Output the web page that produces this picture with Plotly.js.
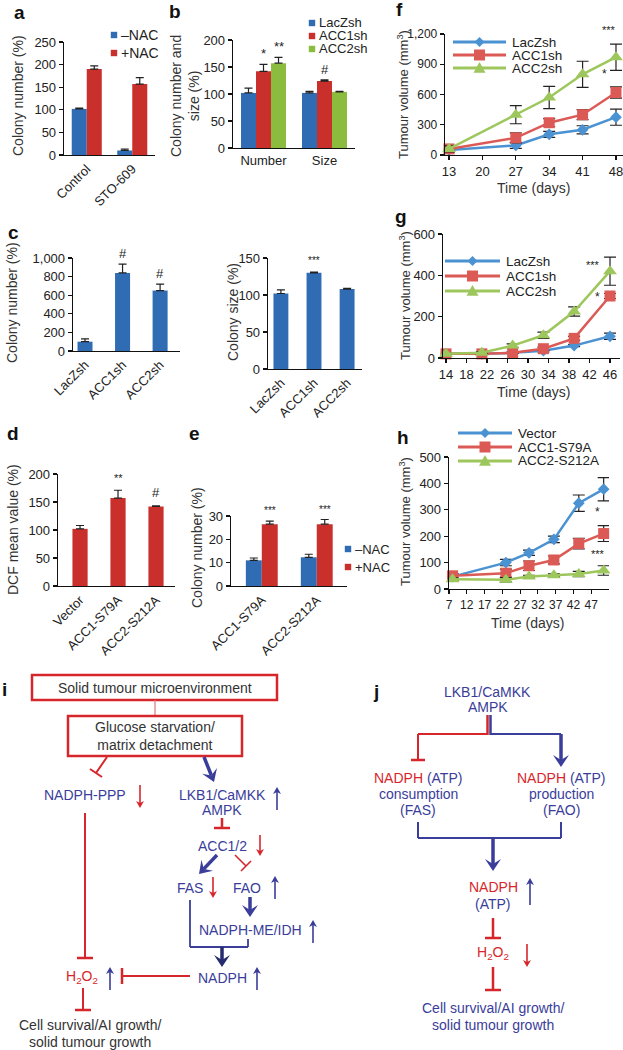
<!DOCTYPE html>
<html><head><meta charset="utf-8">
<script src="https://cdn.plot.ly/plotly-3.0.1.min.js"></script>
<style>html,body{margin:0;padding:0;background:#fff}#chart{width:623px;height:1050px}</style>
</head><body><div id="chart"></div>
<script>
// ---------------- DATA ----------------
const aCategories = ['Control', 'STO-609'];
const aMinusNAC = [102, 10];
const aMinusNACErr = [2, 3];
const aPlusNAC = [190, 157];
const aPlusNACErr = [7, 14];

const bCategories = ['Number', 'Size'];
const bLacZsh = [102, 102];
const bLacZshErr = [9, 3];
const bACC1sh = [142, 124];
const bACC1shErr = [13, 2];
const bACC2sh = [157, 104];
const bACC2shErr = [11, 1];

const cCategories = ['LacZsh', 'ACC1sh', 'ACC2sh'];
const cColonyNumber = [100, 840, 650];
const cColonyNumberErr = [30, 95, 70];
const cColonySize = [102, 130, 108];
const cColonySizeErr = [5, 1, 1];

const dCategories = ['Vector', 'ACC1-S79A', 'ACC2-S212A'];
const dDCF = [102, 157, 142];
const dDCFErr = [6, 14, 1];

const eCategories = ['ACC1-S79A', 'ACC2-S212A'];
const eMinusNAC = [11, 12.3];
const eMinusNACErr = [1, 1.3];
const ePlusNAC = [26.5, 26.5];
const ePlusNACErr = [1.3, 2];

const fDays = [13, 27, 34, 41, 48];
const fLacZsh = [50, 95, 205, 250, 375];
const fLacZshErr = [15, 30, 30, 40, 80];
const fACC1sh = [60, 170, 320, 400, 620];
const fACC1shErr = [20, 50, 40, 50, 55];
const fACC2sh = [60, 400, 570, 800, 970];
const fACC2shErr = [30, 90, 110, 130, 130];
const fTicks = [13, 20, 27, 34, 41, 48];

const gDays = [14, 21, 27, 33, 39, 46];
const gLacZsh = [20, 20, 25, 35, 60, 105];
const gLacZshErr = [3, 3, 3, 5, 5, 15];
const gACC1sh = [20, 20, 25, 45, 95, 300];
const gACC1shErr = [3, 3, 3, 8, 10, 12];
const gACC2sh = [20, 25, 60, 110, 225, 420];
const gACC2shErr = [3, 5, 8, 15, 22, 68];
const gTicks = [14, 18, 22, 26, 30, 34, 38, 42, 46];

const hDays = [8, 23, 29.5, 36.5, 43.5, 50.5];
const hVector = [47, 100, 137, 188, 325, 378];
const hVectorErr = [8, 12, 10, 12, 31, 44];
const hACC1 = [50, 60, 88, 110, 172, 210];
const hACC1Err = [8, 15, 18, 15, 20, 30];
const hACC2 = [37, 35, 47, 52, 57, 70];
const hACC2Err = [5, 8, 5, 5, 10, 18];
const hTicks = [7, 12, 17, 22, 27, 32, 37, 42, 47];

// ---------------- HELPERS ----------------
const W = 623, H = 1050;
const FAM = 'Arial, "Liberation Sans", sans-serif';
const BLUE = '#2f6cb4', RED = '#c9302c', GREEN = '#8cbc3e';
const LBLUE = '#4a92d2', LRED = '#dc5a55', LGREEN = '#9dc75c';
const DBLUE = '#3a3d9a', DRED = '#d7262b';
const px = x => x / W, py = y => 1 - y / H;
const xdom = (a, b) => [a / W, Math.min(1, b / W)];
const ydom = (top, bot) => [1 - bot / H, 1 - top / H];

function axisBase(extra) {
  return Object.assign({
    showline: true, linecolor: '#111', linewidth: 1.3, ticks: 'outside', ticklen: 4,
    tickwidth: 1.2, tickcolor: '#111', showgrid: false, zeroline: false, fixedrange: true,
    ticklabeloverflow: 'allow',
    tickfont: {size: 13, color: '#222', family: FAM}
  }, extra);
}
function barTrace(xa, ya, cats, vals, errs, color, offset, width) {
  return {type: 'bar', x: cats, y: vals, xaxis: xa, yaxis: ya, offset: offset, width: width,
    marker: {color: color, line: {width: 0}}, showlegend: false, hoverinfo: 'skip',
    error_y: {type: 'data', symmetric: false, array: errs, arrayminus: errs.map(() => 0),
      color: '#222', thickness: 1.2, width: 4}};
}
function lineTrace(xa, ya, x, y, err, color, symbol, size) {
  return {type: 'scatter', mode: 'lines+markers', x: x, y: y, xaxis: xa, yaxis: ya,
    line: {color: color, width: 2.5}, marker: {symbol: symbol, size: size, color: color},
    error_y: {type: 'data', array: err, color: '#222', thickness: 1.2, width: 6},
    cliponaxis: false, showlegend: false, hoverinfo: 'skip'};
}
function T(x, y, text, o) {
  o = o || {};
  return {xref: 'paper', yref: 'paper', x: px(x), y: py(y), text: text, showarrow: false,
    font: {size: o.size || 14, color: o.color || '#333', family: FAM},
    xanchor: o.xanchor || 'center', yanchor: o.yanchor || 'middle', textangle: o.angle || 0};
}
function DT(xa, ya, x, y, text, o) {
  o = o || {};
  return {xref: xa, yref: ya, x: x, y: y, text: text, showarrow: false,
    font: {size: o.size || 12, color: '#222', family: FAM}, xanchor: 'center', yanchor: 'bottom', yshift: o.yshift || 1};
}
function L(x0, y0, x1, y1, color, width) {
  return {type: 'line', xref: 'paper', yref: 'paper', x0: px(x0), y0: py(y0), x1: px(x1), y1: py(y1),
    line: {color: color, width: width}};
}
function R(x0, y0, x1, y1, color, width) {
  return {type: 'rect', xref: 'paper', yref: 'paper', x0: px(x0), y0: py(y0), x1: px(x1), y1: py(y1),
    line: {color: color, width: width}, fillcolor: 'rgba(0,0,0,0)'};
}
function P(pts, color) {
  const d = pts.map((p, i) => (i ? 'L' : 'M') + px(p[0]) + ',' + py(p[1])).join(' ') + ' Z';
  return {type: 'path', xref: 'paper', yref: 'paper', path: d, fillcolor: color, line: {width: 0}};
}
function sq(cx, cy, r, color) { return P([[cx - r, cy - r], [cx + r, cy - r], [cx + r, cy + r], [cx - r, cy + r]], color); }
function dia(cx, cy, r, color) { return P([[cx, cy - r], [cx + r, cy], [cx, cy + r], [cx - r, cy]], color); }
function tri(cx, cy, r, color) { return P([[cx, cy - r], [cx + r, cy + r * 0.8], [cx - r, cy + r * 0.8]], color); }
// arrow drawn as shapes: shaft + notched head
function arrow(x0, y0, x1, y1, color, width, hl, hw, notch) {
  const dx = x1 - x0, dy = y1 - y0, len = Math.hypot(dx, dy);
  const ux = dx / len, uy = dy / len, nx = -uy, ny = ux;
  const bx = x1 - ux * hl, by = y1 - uy * hl;
  const mx = bx + ux * notch, my = by + uy * notch;
  return [
    L(x0, y0, mx, my, color, width),
    P([[x1, y1], [bx + nx * hw, by + ny * hw], [mx, my], [bx - nx * hw, by - ny * hw]], color)
  ];
}
function chev(x0, y0, x1, y1, color) { return arrow(x0, y0, x1, y1, color, 3.5, 12, 8, 5); }
function thin(x0, y0, x1, y1, color) { return arrow(x0, y0, x1, y1, color, 1.6, 7, 4, 2); }

// ---------------- TRACES ----------------
const traces = [
  barTrace('x', 'y', aCategories, aMinusNAC, aMinusNACErr, BLUE, -0.33, 0.33),
  barTrace('x', 'y', aCategories, aPlusNAC, aPlusNACErr, RED, 0, 0.33),
  barTrace('x2', 'y2', bCategories, bLacZsh, bLacZshErr, BLUE, -0.369, 0.246),
  barTrace('x2', 'y2', bCategories, bACC1sh, bACC1shErr, RED, -0.123, 0.246),
  barTrace('x2', 'y2', bCategories, bACC2sh, bACC2shErr, GREEN, 0.123, 0.246),
  barTrace('x3', 'y3', cCategories, cColonyNumber, cColonyNumberErr, BLUE, -0.2, 0.4),
  barTrace('x4', 'y4', cCategories, cColonySize, cColonySizeErr, BLUE, -0.225, 0.45),
  barTrace('x5', 'y5', dCategories, dDCF, dDCFErr, RED, -0.2, 0.4),
  barTrace('x6', 'y6', eCategories, eMinusNAC, eMinusNACErr, BLUE, -0.29, 0.29),
  barTrace('x6', 'y6', eCategories, ePlusNAC, ePlusNACErr, RED, 0, 0.29),
  lineTrace('x7', 'y7', fDays, fLacZsh, fLacZshErr, LBLUE, 'diamond', 9),
  lineTrace('x7', 'y7', fDays, fACC1sh, fACC1shErr, LRED, 'square', 11),
  lineTrace('x7', 'y7', fDays, fACC2sh, fACC2shErr, LGREEN, 'triangle-up', 12),
  lineTrace('x8', 'y8', gDays, gLacZsh, gLacZshErr, LBLUE, 'diamond', 9),
  lineTrace('x8', 'y8', gDays, gACC1sh, gACC1shErr, LRED, 'square', 11),
  lineTrace('x8', 'y8', gDays, gACC2sh, gACC2shErr, LGREEN, 'triangle-up', 12),
  lineTrace('x9', 'y9', hDays, hVector, hVectorErr, LBLUE, 'diamond', 9),
  lineTrace('x9', 'y9', hDays, hACC1, hACC1Err, LRED, 'square', 11),
  lineTrace('x9', 'y9', hDays, hACC2, hACC2Err, LGREEN, 'triangle-up', 12)
];

// ---------------- LAYOUT ----------------
const catX = (dom, range, extra) => axisBase(Object.assign({domain: dom, type: 'category', range: range, ticks: '', tickangle: -45}, extra));
const tf12 = {size: 12, color: '#222', family: FAM};
const layout = {
  width: W, height: H, margin: {l: 0, r: 0, t: 0, b: 0}, paper_bgcolor: '#fff', plot_bgcolor: 'rgba(0,0,0,0)',
  font: {family: FAM, color: '#222'}, barmode: 'overlay', showlegend: false,
  xaxis: catX(xdom(64, 155), [-0.5, 1.5], {anchor: 'y'}),
  yaxis: axisBase({domain: ydom(42, 155), range: [0, 250], dtick: 50, anchor: 'x'}),
  xaxis2: catX(xdom(233, 355), [-0.5, 1.5], {anchor: 'y2', tickangle: 0}),
  yaxis2: axisBase({domain: ydom(40, 148), range: [0, 200], dtick: 50, anchor: 'x2'}),
  xaxis3: catX(xdom(73, 180), [-0.32, 2.53], {anchor: 'y3'}),
  yaxis3: axisBase({domain: ydom(258, 351), range: [0, 1000], dtick: 200, anchor: 'x3', separatethousands: true}),
  xaxis4: catX(xdom(268, 362), [-0.39, 2.45], {anchor: 'y4'}),
  yaxis4: axisBase({domain: ydom(258, 369), range: [0, 150], dtick: 50, anchor: 'x4'}),
  xaxis5: catX(xdom(58, 175), [-0.58, 2.5], {anchor: 'y5'}),
  yaxis5: axisBase({domain: ydom(474, 586), range: [0, 200], dtick: 50, anchor: 'x5'}),
  xaxis6: catX(xdom(231, 347), [-0.56, 1.55], {anchor: 'y6'}),
  yaxis6: axisBase({domain: ydom(516, 586), range: [0, 30], dtick: 10, anchor: 'x6'}),
  xaxis7: axisBase({domain: xdom(445, 623), range: [12.16, 49.47], tickvals: fTicks, anchor: 'y7'}),
  yaxis7: axisBase({domain: ydom(34, 155), range: [0, 1200], dtick: 300, anchor: 'x7', separatethousands: true, tickfont: tf12}),
  xaxis8: axisBase({domain: xdom(443, 620), range: [13.41, 47.95], tickvals: gTicks, anchor: 'y8'}),
  yaxis8: axisBase({domain: ydom(234, 358), range: [0, 600], dtick: 200, anchor: 'x8'}),
  xaxis9: axisBase({domain: xdom(449, 609), range: [7, 52], tickvals: hTicks, anchor: 'y9', tickfont: tf12}),
  yaxis9: axisBase({domain: ydom(457, 589), range: [0, 500], dtick: 100, anchor: 'x9'}),
  annotations: [],
  shapes: []
};
const ann = layout.annotations, shp = layout.shapes;
const addArrow = a => a.forEach(s => shp.push(s));

// panel letters
[['a', 19, 12], ['b', 175, 11], ['f', 399, 10], ['c', 13, 232], ['g', 401, 216], ['d', 13, 433],
 ['e', 194, 433], ['h', 403, 437], ['i', 4, 689], ['j', 376, 692]].forEach(l =>
  ann.push(T(l[1], l[2], '<b>' + l[0] + '</b>', {size: 19, color: '#111'})));

// axis titles
ann.push(T(18, 96, 'Colony number (%)', {angle: -90}));
ann.push(T(185, 96, 'Colony number and<br>size (%)', {angle: -90}));
ann.push(T(12, 303, 'Colony number (%)', {angle: -90}));
ann.push(T(233, 312, 'Colony size (%)', {angle: -90}));
ann.push(T(13, 530, 'DCF mean value (%)', {angle: -90}));
ann.push(T(197, 548, 'Colony number (%)', {angle: -90}));
ann.push(T(403, 95, 'Tumour volume (mm<sup>3</sup>)', {angle: -90, size: 13}));
ann.push(T(405, 296, 'Tumour volume (mm<sup>3</sup>)', {angle: -90, size: 13}));
ann.push(T(405, 522, 'Tumour volume (mm<sup>3</sup>)', {angle: -90, size: 13}));
ann.push(T(533, 188, 'Time (days)'));
ann.push(T(533, 392, 'Time (days)'));
ann.push(T(527, 623, 'Time (days)'));

// significance marks
ann.push(DT('x2', 'y2', 0, bACC1sh[0] + bACC1shErr[0], '*', {size: 13}));
ann.push(DT('x2', 'y2', 0.246, bACC2sh[0] + bACC2shErr[0], '**', {size: 13}));
ann.push(DT('x2', 'y2', 1, bACC1sh[1] + bACC1shErr[1], '#', {size: 13}));
ann.push(DT('x3', 'y3', 1, cColonyNumber[1] + cColonyNumberErr[1], '#', {size: 13}));
ann.push(DT('x3', 'y3', 2, cColonyNumber[2] + cColonyNumberErr[2], '#', {size: 13}));
ann.push(DT('x4', 'y4', 1, cColonySize[1] + cColonySizeErr[1], '***', {size: 10, yshift: 4}));
ann.push(DT('x5', 'y5', 1, dDCF[1] + dDCFErr[1], '**', {size: 11, yshift: 4}));
ann.push(DT('x5', 'y5', 2, dDCF[2] + dDCFErr[2], '#', {size: 13, yshift: 4}));
ann.push(DT('x6', 'y6', 0.145, ePlusNAC[0] + ePlusNACErr[0], '***', {size: 10, yshift: 3}));
ann.push(DT('x6', 'y6', 1.145, ePlusNAC[1] + ePlusNACErr[1], '***', {size: 10, yshift: 3}));
ann.push(DT('x7', 'y7', 46.5, 1150, '***', {size: 11}));
ann.push(DT('x7', 'y7', 45.6, 700, '*', {size: 12}));
ann.push(DT('x8', 'y8', 42.7, 405, '***', {size: 11}));
ann.push(DT('x8', 'y8', 43.5, 245, '*', {size: 12}));
ann.push(DT('x9', 'y9', 48.9, 255, '*', {size: 12}));
ann.push(DT('x9', 'y9', 48.9, 100, '***', {size: 11}));

// manual legends (bars)
function barLeg(x, y, color, label, size) {
  shp.push(sq(x, y, 3.2, color));
  ann.push(T(x + 5, y, label, {xanchor: 'left', size: size, color: '#222'}));
}
barLeg(114, 35, BLUE, '–NAC', 14);
barLeg(114, 53, RED, '+NAC', 14);
barLeg(312, 23, BLUE, 'LacZsh', 13);
barLeg(312, 36, RED, 'ACC1sh', 13);
barLeg(312, 49, GREEN, 'ACC2sh', 13);
barLeg(348, 549, BLUE, '–NAC', 13);
barLeg(348, 567, RED, '+NAC', 13);
// manual legends (lines)
function lineLeg(x0, x1, y, color, kind, label) {
  shp.push(L(x0, y, x1, y, color, 3));
  const cx = (x0 + x1) / 2;
  if (kind === 'd') shp.push(dia(cx, y, 5, color));
  if (kind === 's') shp.push(sq(cx, y, 5.5, color));
  if (kind === 't') shp.push(tri(cx, y, 6, color));
  ann.push(T(x1 + 4, y, label, {xanchor: 'left', size: 13.5, color: '#222'}));
}
lineLeg(453, 506, 42, LBLUE, 'd', 'LacZsh');
lineLeg(453, 506, 55, LRED, 's', 'ACC1sh');
lineLeg(453, 506, 68, LGREEN, 't', 'ACC2sh');
lineLeg(445, 500, 261, LBLUE, 'd', 'LacZsh');
lineLeg(445, 500, 276, LRED, 's', 'ACC1sh');
lineLeg(445, 500, 291, LGREEN, 't', 'ACC2sh');
lineLeg(458, 512, 433, LBLUE, 'd', 'Vector');
lineLeg(458, 512, 447, LRED, 's', 'ACC1-S79A');
lineLeg(458, 512, 461, LGREEN, 't', 'ACC2-S212A');

// ---------------- DIAGRAM i ----------------
shp.push(R(32, 675, 277, 700, DRED, 2.5));
ann.push(T(155, 688, 'Solid tumour microenvironment'));
shp.push(L(155, 700, 155, 716, '#e07a7a', 1.2));
shp.push(R(68, 716, 242, 756, DRED, 2.5));
ann.push(T(155, 736, 'Glucose starvation/<br>matrix detachment'));
shp.push(L(107, 757, 96, 773, DRED, 2));
shp.push(L(90, 769, 102, 777, DRED, 2));
addArrow(chev(204, 757, 214, 782, DBLUE));
ann.push(T(85, 795, 'NADPH-PPP', {color: DBLUE}));
addArrow(thin(140, 785, 140, 808, DRED));
ann.push(T(222, 795, 'LKB1/CaMKK', {color: DBLUE}));
ann.push(T(222, 810, 'AMPK', {color: DBLUE}));
addArrow(thin(277, 810, 277, 787, DBLUE));
shp.push(L(85, 813, 85, 958, DRED, 2));
shp.push(L(77, 958, 93, 958, DRED, 2.5));
shp.push(L(222, 818, 222, 828, DRED, 2.5));
shp.push(L(214, 828, 230, 828, DRED, 2.5));
ann.push(T(222, 846, 'ACC1/2', {color: DBLUE}));
addArrow(thin(260, 835, 260, 856, DRED));
addArrow(chev(217, 855, 199, 874, DBLUE));
shp.push(L(235, 855, 246, 866, DRED, 1.6));
shp.push(L(241, 871, 251, 861, DRED, 1.6));
ann.push(T(190, 888, 'FAS', {color: DBLUE}));
addArrow(thin(213, 877, 213, 898, DRED));
ann.push(T(247, 888, 'FAO', {color: DBLUE}));
addArrow(thin(275, 899, 275, 876, DBLUE));
addArrow(chev(250, 897, 250, 917, DBLUE));
ann.push(T(250, 930, 'NADPH-ME/IDH', {color: DBLUE}));
addArrow(thin(313, 943, 313, 920, DBLUE));
shp.push(L(190, 900, 190, 947, DBLUE, 1.8));
shp.push(L(190, 947, 248, 947, DBLUE, 1.8));
shp.push(L(248, 947, 248, 939, DBLUE, 1.8));
addArrow(chev(222, 947, 222, 967, '#262a6e'));
ann.push(T(222, 978, 'NADPH', {color: DBLUE}));
addArrow(thin(257, 990, 257, 967, DBLUE));
shp.push(L(190, 976, 122, 976, DRED, 2));
shp.push(L(122, 968, 122, 984, DRED, 2.5));
ann.push(T(82, 977, 'H<sub>2</sub>O<sub>2</sub>', {color: DRED}));
addArrow(thin(110, 990, 110, 967, DBLUE));
shp.push(L(83, 988, 83, 1010, DRED, 2));
shp.push(L(75, 1010, 91, 1010, DRED, 2.5));
ann.push(T(90, 1025, 'Cell survival/AI growth/'));
ann.push(T(90, 1042, 'solid tumour growth'));

// ---------------- DIAGRAM j ----------------
ann.push(T(488, 692, 'LKB1/CaMKK', {color: DBLUE}));
ann.push(T(488, 707, 'AMPK', {color: DBLUE}));
shp.push(L(487.5, 715, 487.5, 735, DRED, 2.5));
shp.push(L(490.5, 715, 490.5, 735, DBLUE, 2.5));
shp.push(L(418, 734, 488, 734, DRED, 2));
shp.push(L(418, 734, 418, 760, DRED, 2));
shp.push(L(411, 760, 425, 760, DRED, 2.5));
shp.push(L(490, 734, 561, 734, DBLUE, 2));
addArrow(chev(561, 734, 561, 767, DBLUE));
const NA = '<span style="color:' + DRED + '">NADPH</span> (ATP)';
ann.push(T(418, 778, NA, {color: DBLUE}));
ann.push(T(418, 794, 'consumption', {color: DBLUE}));
ann.push(T(418, 810, '(FAS)', {color: DBLUE}));
ann.push(T(561, 778, NA, {color: DBLUE}));
ann.push(T(561, 794, 'production', {color: DBLUE}));
ann.push(T(561, 810, '(FAO)', {color: DBLUE}));
shp.push(L(418, 822, 418, 838, DBLUE, 2));
shp.push(L(418, 838, 561, 838, DBLUE, 2));
shp.push(L(561, 838, 561, 822, DBLUE, 2));
addArrow(chev(493, 838, 493, 871, DBLUE));
ann.push(T(493, 887, 'NADPH', {color: DRED}));
ann.push(T(493, 904, '(ATP)', {color: DBLUE}));
addArrow(thin(530, 905, 530, 878, DBLUE));
shp.push(L(493, 918, 493, 938, DRED, 2.5));
shp.push(L(485, 938, 501, 938, DRED, 2.5));
ann.push(T(493, 953, 'H<sub>2</sub>O<sub>2</sub>', {color: DRED}));
addArrow(thin(527, 944, 527, 967, DRED));
shp.push(L(493, 967, 493, 990, DRED, 2.5));
shp.push(L(485, 990, 501, 990, DRED, 2.5));
ann.push(T(493, 1008, 'Cell survival/AI growth/', {color: DBLUE}));
ann.push(T(493, 1025, 'solid tumour growth', {color: DBLUE}));

Plotly.newPlot('chart', traces, layout, {displayModeBar: false, staticPlot: true});
</script></body></html>
